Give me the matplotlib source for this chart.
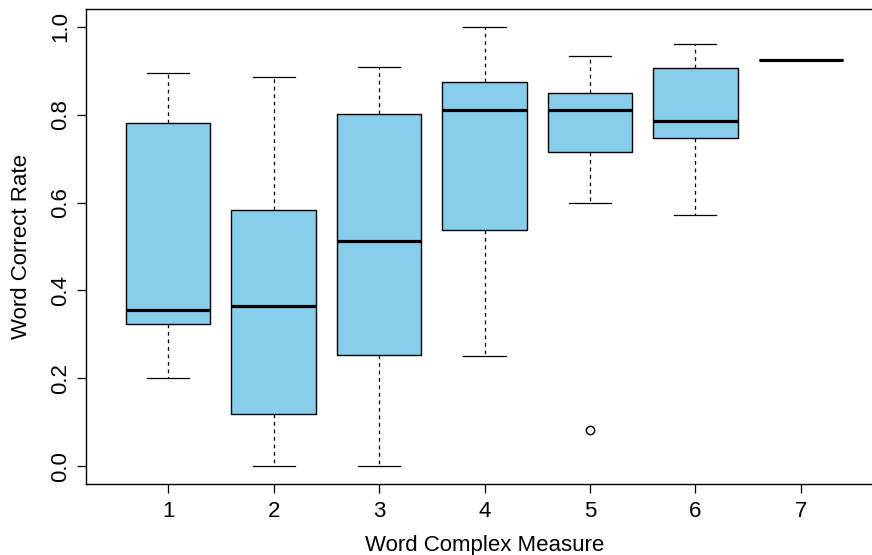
import matplotlib
matplotlib.use("Agg")
import matplotlib.pyplot as plt

plt.rcParams['font.family'] = ['Liberation Sans', 'DejaVu Sans']

# Summary statistics per word-complexity level
levels = ["1", "2", "3", "4", "5", "6", "7"]
medians = [0.355, 0.364, 0.512, 0.810, 0.810, 0.785, 0.923]
q1 = [0.323, 0.120, 0.254, 0.538, 0.714, 0.747, 0.923]
q3 = [0.781, 0.583, 0.801, 0.875, 0.848, 0.906, 0.923]
whisker_low = [0.200, 0.000, 0.000, 0.250, 0.599, 0.571, 0.923]
whisker_high = [0.895, 0.886, 0.909, 1.000, 0.933, 0.961, 0.923]
outliers = [[], [], [], [], [0.083], [], []]

yticks = [0.0, 0.2, 0.4, 0.6, 0.8, 1.0]

stats = []
for lab, med, lo, hi, wl, wh, fl in zip(levels, medians, q1, q3,
                                        whisker_low, whisker_high, outliers):
    stats.append(dict(label=lab, med=med, q1=lo, q3=hi,
                      whislo=wl, whishi=wh, fliers=fl))

fig = plt.figure(figsize=(8.72, 5.55), dpi=100)
ax = fig.add_axes([86 / 872, 71 / 555, (883 - 86) / 872, (484 - 9) / 555])

positions = list(range(1, len(levels) + 1))
ax.bxp(stats, positions=positions, widths=0.8, patch_artist=True,
       showfliers=True,
       boxprops=dict(facecolor='#87CEEB', edgecolor='black', linewidth=1.0),
       medianprops=dict(color='black', linewidth=2.3, solid_capstyle='butt'),
       whiskerprops=dict(color='black', linewidth=0.9, linestyle=(0, (3, 3))),
       capprops=dict(color='black', linewidth=0.9),
       capwidths=0.4,
       flierprops=dict(marker='o', markerfacecolor='white',
                       markeredgecolor='black', markersize=6,
                       markeredgewidth=1.0))

ax.set_xlim(0.22, 7.78)
ax.set_ylim(-0.04, 1.04)
ax.set_xticks(positions)
ax.set_xticklabels(levels)
ax.set_yticks(yticks)
ax.set_yticklabels([f"{v:.1f}" for v in yticks], rotation=90, va='center')

ax.tick_params(axis='both', length=6.5, width=0.9, labelsize=16, pad=4)
ax.tick_params(axis='x', pad=5.5)
for side in ['left', 'bottom', 'top', 'right']:
    ax.spines[side].set_linewidth(1.0)
    ax.spines[side].set_color('black')

ax.set_xlabel("Word Complex Measure", fontsize=16, labelpad=9.5)
ax.set_ylabel("Word Correct Rate", fontsize=16, labelpad=13)

fig.savefig("out.png", dpi=100)
